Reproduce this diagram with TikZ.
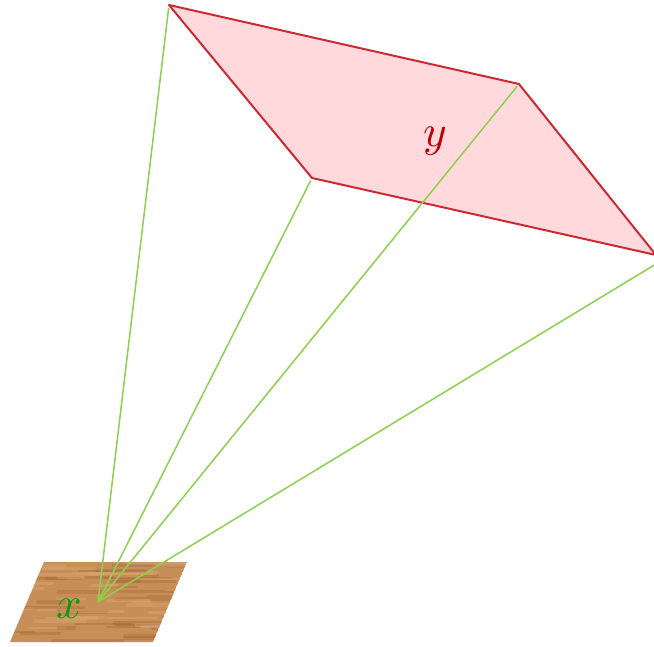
\documentclass[tikz,border=0pt]{standalone}
\usepackage{graphicx}
\usepackage{tikz}
\usetikzlibrary{calc}
\definecolor{sheetfill}{HTML}{FFD9DC}
\definecolor{sheetedge}{HTML}{CC2A30}
\definecolor{yink}{HTML}{C00000}
\definecolor{rayline}{HTML}{8CD04C}
\definecolor{xink}{HTML}{119911}
\definecolor{wood}{HTML}{C88E58}
\definecolor{wooddark}{HTML}{A06838}
\definecolor{woodlight}{HTML}{E0AC7A}
\newcommand{\bigv}[1]{\scalebox{4.5}{$#1$}}
\tikzset{
  sheet/.style={draw=sheetedge,fill=sheetfill,line width=2pt,line join=round},
  ray/.style={draw=rayline,line width=1.5pt,shorten >=3pt},
  grain/.style={line cap=round,opacity=0.35},
  bigvar/.style={inner sep=0pt}
}

\begin{document}
\begin{tikzpicture}[x=1pt,y=-1pt]
  \useasboundingbox (0,0) rectangle (654,647);

  % wooden base under the point x
  \coordinate (w1) at (44,562);
  \coordinate (w2) at (187,562);
  \coordinate (w3) at (153,642);
  \coordinate (w4) at (10,642);
  \begin{scope}
    \clip (w1) -- (w2) -- (w3) -- (w4) -- cycle;
    \fill[wood] (w1) -- (w2) -- (w3) -- (w4) -- cycle;
    \pgfmathsetseed{11}
    \foreach \k in {1,...,70} {
      \pgfmathsetmacro{\gx}{rnd*190}
      \pgfmathsetmacro{\gy}{562+rnd*80}
      \pgfmathsetmacro{\gl}{15+rnd*55}
      \pgfmathsetmacro{\gw}{1.5+rnd*3}
      \ifodd\k
        \draw[grain,wooddark,line width=\gw pt] (\gx,\gy) -- ++(\gl,0);
      \else
        \draw[grain,woodlight,line width=\gw pt] (\gx,\gy) -- ++(\gl,0);
      \fi
    }
  \end{scope}

  % the sheet y
  \coordinate (s1) at (169,5);
  \coordinate (s2) at (519,84);
  \coordinate (s3) at (656,255);
  \coordinate (s4) at (312,178);
  \draw[sheet] (s1) -- (s2) -- (s3) -- (s4) -- cycle;

  % rays from x to the corners
  \coordinate (apex) at (98,602);
  \coordinate (rend) at (656,264);
  \foreach \c in {s1,s2,s4}
    \draw[ray] (apex) -- (\c);
  \draw[ray,shorten >=0pt] (apex) -- (rend);

  % labels
  \node[bigvar,text=xink] (xlab) at (69,609) {\bigv{x}};
  \node[bigvar,text=yink] (ylab) at (435,141) {\bigv{y}};
\end{tikzpicture}
\end{document}
